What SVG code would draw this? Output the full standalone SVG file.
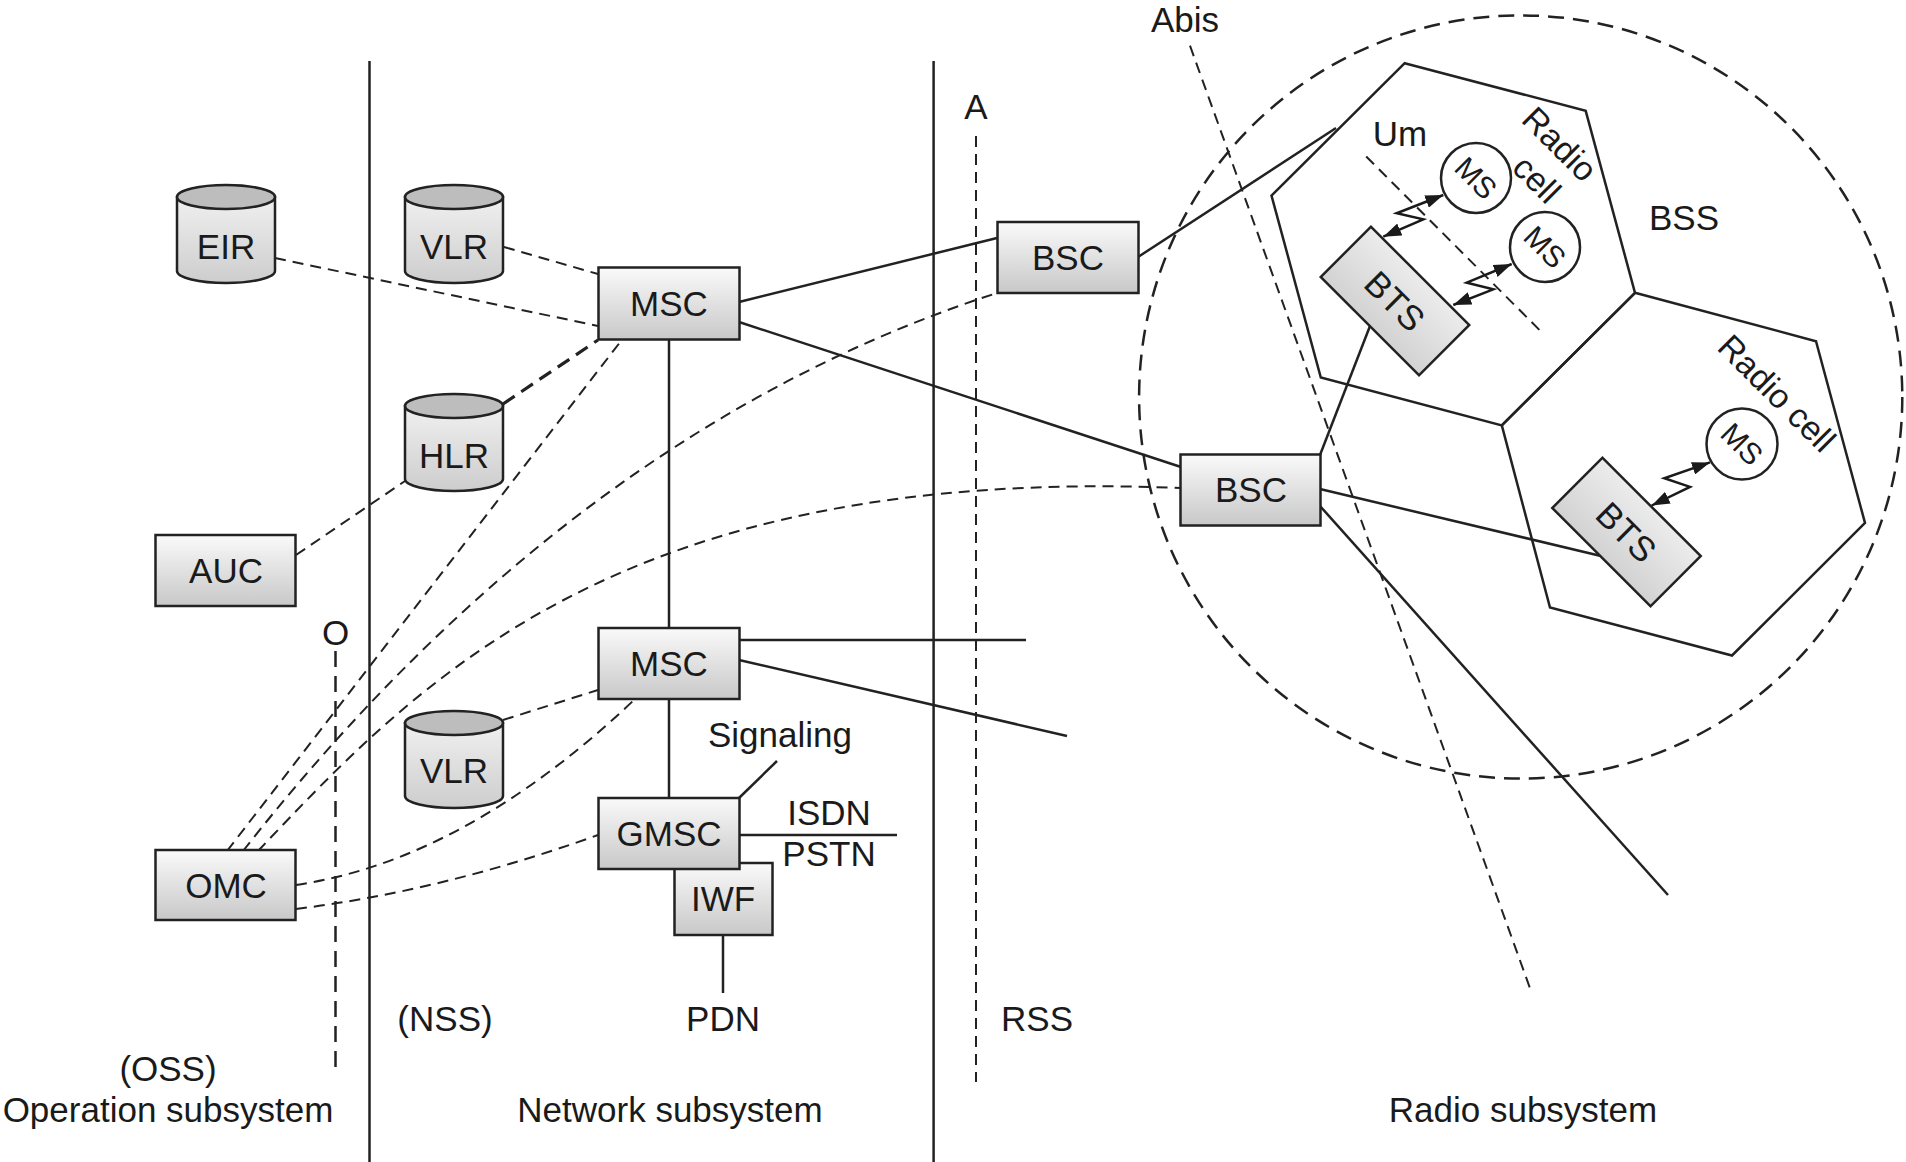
<svg xmlns="http://www.w3.org/2000/svg" width="1906" height="1162" viewBox="0 0 1906 1162">
<style>
.lbl{font-family:"Liberation Sans",Arial,Helvetica,sans-serif;font-size:35px;fill:#1a1a1a;text-anchor:middle}
.ms{font-size:30px}
.rc{font-size:34px}
.box{fill:url(#gBox);stroke:#222;stroke-width:2.5}
.cyl{fill:url(#gCyl);stroke:#222;stroke-width:2.5}
.ctop{fill:#bdbdbd;stroke:#222;stroke-width:2.5}
.bts{fill:url(#gBts);stroke:#222;stroke-width:2.5}
.msc{fill:#fff;stroke:#222;stroke-width:2.5}
.solid{stroke:#222;stroke-width:2.5;fill:none}
.dash{stroke:#222;stroke-width:2;stroke-dasharray:11 7;fill:none}
.dashb{stroke:#222;stroke-width:3.2;stroke-dasharray:14 8;fill:none}
.dashc{stroke:#222;stroke-width:2.5;stroke-dasharray:16 9;fill:none}
.arrow{stroke:#1a1a1a;stroke-width:2.5;fill:none;marker-start:url(#ah);marker-end:url(#ah)}
</style>
<defs>
<linearGradient id="gBox" x1="0" y1="0" x2="0" y2="1"><stop offset="0" stop-color="#fafafa"/><stop offset="1" stop-color="#c8c8c8"/></linearGradient>
<linearGradient id="gCyl" x1="0" y1="0" x2="0" y2="1"><stop offset="0" stop-color="#f0f0f0"/><stop offset="1" stop-color="#cdcdcd"/></linearGradient>
<linearGradient id="gBts" x1="0" y1="0" x2="0" y2="1"><stop offset="0" stop-color="#ececec"/><stop offset="1" stop-color="#d2d2d2"/></linearGradient>
<marker id="ah" viewBox="0 0 10 10" refX="10" refY="5" markerWidth="18" markerHeight="13" markerUnits="userSpaceOnUse" orient="auto-start-reverse" preserveAspectRatio="none"><path d="M0,0 L10,5 L0,10 z" fill="#1a1a1a"/></marker>
</defs>
<rect width="1906" height="1162" fill="#fff"/>

<g id="background">
  <line class="solid" x1="369.5" y1="61" x2="369.5" y2="1162"/>
  <line class="solid" x1="933.6" y1="61" x2="933.6" y2="1162"/>
  <line class="dash" x1="976" y1="136" x2="976" y2="1082"/>
  <line class="dashc" x1="335.5" y1="651" x2="335.5" y2="1067"/>
  <circle class="dashc" cx="1520.7" cy="397" r="381.6"/>
  <polygon class="solid" points="1404.7,63.2 1585.7,110.8 1635,292.8 1501.8,425.4 1320.8,377.5 1271.5,195.5"/>
  <polygon class="solid" points="1635,292.8 1816,341.2 1865,523 1732,655.5 1550,607.5 1501.8,425.4"/>
  <line class="dash" x1="1190" y1="45.7" x2="1531" y2="991"/>
  <line class="dash" x1="1366.2" y1="156.5" x2="1541.3" y2="331.8"/>
  <text class="lbl" x="1185" y="32">Abis</text>
  <text class="lbl" x="976" y="119">A</text>
  <text class="lbl" x="335.5" y="645">O</text>
  <text class="lbl" x="1400" y="146">Um</text>
  <text class="lbl" x="1684" y="230">BSS</text>
  <text class="lbl rc" transform="translate(1560,144) rotate(45)" y="12">Radio</text>
  <text class="lbl rc" transform="translate(1537,179) rotate(45)" y="12">cell</text>
  <text class="lbl rc" transform="translate(1777,393) rotate(45)" y="12">Radio cell</text>
  <text class="lbl" x="168" y="1081">(OSS)</text>
  <text class="lbl" x="168" y="1122">Operation subsystem</text>
  <text class="lbl" x="445" y="1031">(NSS)</text>
  <text class="lbl" x="723" y="1031">PDN</text>
  <text class="lbl" x="1037" y="1031">RSS</text>
  <text class="lbl" x="670" y="1122">Network subsystem</text>
  <text class="lbl" x="1523" y="1122">Radio subsystem</text>
  <text class="lbl" x="780" y="747">Signaling</text>
  <text class="lbl" x="829" y="825">ISDN</text>
  <text class="lbl" x="829" y="866">PSTN</text>
</g>

<g id="connectors">
  <line class="dash" x1="275" y1="258" x2="598" y2="326"/>
  <line class="dash" x1="504" y1="247" x2="598" y2="274"/>
  <line class="dashb" x1="503" y1="404" x2="598" y2="340"/>
  <line class="dash" x1="296" y1="555" x2="405" y2="481"/>
  <line class="dash" x1="503" y1="720" x2="598" y2="690"/>
  <line class="dash" x1="227" y1="851" x2="621" y2="341"/>
  <path class="dash" d="M243,851 Q574,430 997,293"/>
  <path class="dash" d="M258,851 C420,680 620,465 1181,488"/>
  <path class="dash" d="M296,885 Q465,860 634,700"/>
  <path class="dash" d="M296,909 Q442,891 598,835"/>
  <line class="solid" x1="669" y1="340" x2="669" y2="628"/>
  <line class="solid" x1="669" y1="699" x2="669" y2="798"/>
  <line class="solid" x1="739" y1="302" x2="997" y2="238"/>
  <line class="solid" x1="739" y1="322" x2="1181" y2="467"/>
  <line class="solid" x1="1138" y1="257" x2="1336" y2="128"/>
  <line class="solid" x1="1320" y1="455" x2="1370" y2="326"/>
  <line class="solid" x1="1320" y1="489" x2="1601" y2="556"/>
  <line class="solid" x1="1320" y1="506" x2="1668" y2="895"/>
  <line class="solid" x1="739" y1="640" x2="1026" y2="640"/>
  <line class="solid" x1="739" y1="660" x2="1067" y2="736"/>
  <line class="solid" x1="739" y1="798" x2="777" y2="761"/>
  <line class="solid" x1="739" y1="835" x2="897" y2="835"/>
  <line class="solid" x1="723" y1="935" x2="723" y2="993"/>
  <polyline class="arrow" points="1383.3,236.7 1423.3,219.3 1396.7,213.3 1443.3,195"/>
  <polyline class="arrow" points="1453.3,305 1493.3,289.3 1466.7,282.7 1511.7,264"/>
  <polyline class="arrow" points="1651.7,505.5 1690,486.9 1664.3,478.2 1710,462.4"/>
</g>

<g id="EIR">
  <path class="cyl" d="M177,197 L177,271 A49,12 0 0 0 275,271 L275,197 Z"/>
  <ellipse class="ctop" cx="226" cy="197" rx="49" ry="12"/>
  <text class="lbl" x="226" y="259">EIR</text>
</g>
<g id="VLR1">
  <path class="cyl" d="M405,197 L405,271 A49,12 0 0 0 503,271 L503,197 Z"/>
  <ellipse class="ctop" cx="454" cy="197" rx="49" ry="12"/>
  <text class="lbl" x="454" y="259">VLR</text>
</g>
<g id="HLR">
  <path class="cyl" d="M405,406 L405,479 A49,12 0 0 0 503,479 L503,406 Z"/>
  <ellipse class="ctop" cx="454" cy="406" rx="49" ry="12"/>
  <text class="lbl" x="454" y="468">HLR</text>
</g>
<g id="VLR2">
  <path class="cyl" d="M405,723 L405,796 A49,12 0 0 0 503,796 L503,723 Z"/>
  <ellipse class="ctop" cx="454" cy="723" rx="49" ry="12"/>
  <text class="lbl" x="454" y="783">VLR</text>
</g>
<g id="AUC">
  <rect class="box" x="155.5" y="535" width="140" height="71"/>
  <text class="lbl" x="226" y="583">AUC</text>
</g>
<g id="OMC">
  <rect class="box" x="155.5" y="850" width="140" height="70"/>
  <text class="lbl" x="226" y="898">OMC</text>
</g>
<g id="MSC1">
  <rect class="box" x="598.5" y="267.5" width="141" height="72"/>
  <text class="lbl" x="669" y="316">MSC</text>
</g>
<g id="MSC2">
  <rect class="box" x="598.5" y="628" width="141" height="71"/>
  <text class="lbl" x="669" y="676">MSC</text>
</g>
<g id="IWF">
  <rect class="box" x="674.5" y="863" width="98" height="72"/>
  <text class="lbl" x="723" y="911">IWF</text>
</g>
<g id="GMSC">
  <rect class="box" x="598.5" y="798" width="141" height="71"/>
  <text class="lbl" x="669" y="846">GMSC</text>
</g>
<g id="BSC1">
  <rect class="box" x="997.5" y="222" width="141" height="71"/>
  <text class="lbl" x="1068" y="270">BSC</text>
</g>
<g id="BSC2">
  <rect class="box" x="1180.5" y="454.5" width="140" height="71"/>
  <text class="lbl" x="1251" y="502">BSC</text>
</g>
<g id="BTS1">
  <rect class="bts" x="-69.5" y="-35.5" width="139" height="71" transform="translate(1395,301) rotate(45)"/>
  <text class="lbl" transform="translate(1395,301) rotate(45)" y="12.5">BTS</text>
</g>
<g id="BTS2">
  <rect class="bts" x="-69.5" y="-35.5" width="139" height="71" transform="translate(1626.5,532) rotate(45)"/>
  <text class="lbl" transform="translate(1626.5,532) rotate(45)" y="12.5">BTS</text>
</g>
<g id="MS1">
  <circle class="msc" cx="1476" cy="178" r="35"/>
  <text class="lbl ms" transform="translate(1476,178) rotate(45)" y="10.5">MS</text>
</g>
<g id="MS2">
  <circle class="msc" cx="1545" cy="247" r="35"/>
  <text class="lbl ms" transform="translate(1545,247) rotate(45)" y="10.5">MS</text>
</g>
<g id="MS3">
  <circle class="msc" cx="1742" cy="444" r="35.5"/>
  <text class="lbl ms" transform="translate(1742,444) rotate(45)" y="10.5">MS</text>
</g>
</svg>
